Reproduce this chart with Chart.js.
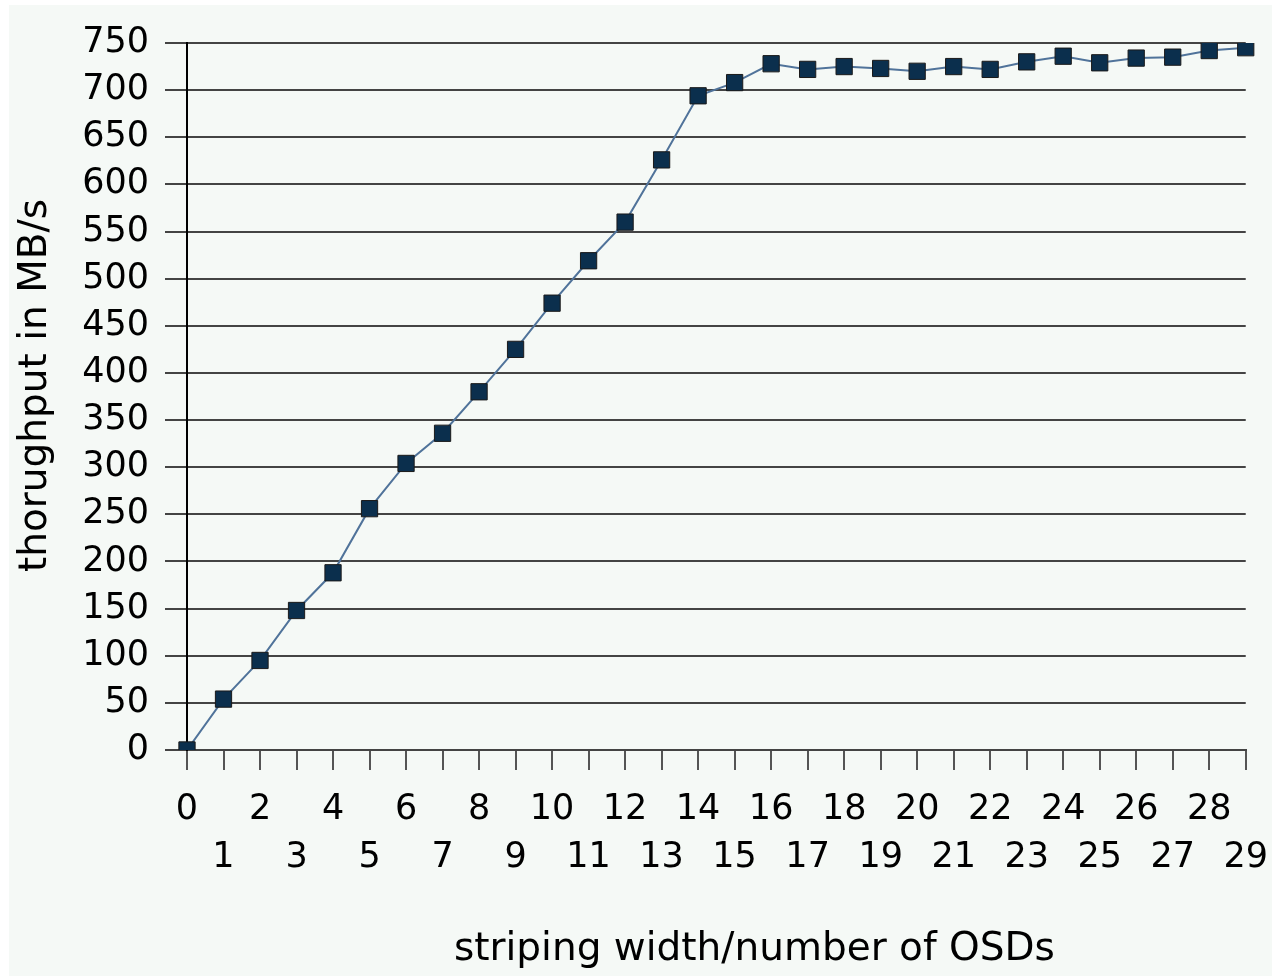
<!DOCTYPE html>
<html>
<head>
<meta charset="utf-8">
<script src="https://cdn.jsdelivr.net/npm/chart.js@4/dist/chart.umd.min.js"></script>
<style>
  html, body { margin: 0; padding: 0; background: #ffffff; overflow: hidden; }
  #wrap { position: absolute; left: 9px; top: 5px; width: 1275px; height: 971px; background: #f5f9f6; }
</style>
</head>
<body>
<div id="wrap"><canvas id="osdChart"></canvas></div>
<script>
// striping width / number of OSDs (0..29)
const widths = [0, 1, 2, 3, 4, 5, 6, 7, 8, 9, 10, 11, 12, 13, 14, 15, 16, 17, 18, 19, 20, 21, 22, 23, 24, 25, 26, 27, 28, 29];
// throughput in MB/s
const throughput = [0, 54, 95, 148, 188, 256, 304, 336, 380, 425, 474, 519, 560, 626, 694, 708, 728, 722, 725, 723, 720, 725, 722, 730, 736, 729, 734, 735, 742, 745];
const yTicks = { min: 0, max: 750, step: 50 };

const xTitle = 'striping width/number of OSDs';
const yTitle = 'thorughput in MB/s';

Chart.defaults.font.family = '"DejaVu Sans", sans-serif';
Chart.defaults.color = '#000000';

// axis titles are a little off-centre in the original, so draw them by hand
const axisTitles = {
    id: 'axisTitles',
    afterDraw(chart) {
        const c = chart.ctx;
        const area = chart.chartArea;
        c.save();
        c.font = '39px "DejaVu Sans", sans-serif';
        c.fillStyle = '#000000';
        c.textAlign = 'center';
        c.textBaseline = 'middle';
        c.fillText(xTitle, (area.left + area.right) / 2 + 38, chart.height - 26);
        c.translate(27, (area.top + area.bottom) / 2 - 11);
        c.rotate(-Math.PI / 2);
        c.fillText(yTitle, 0, 0);
        c.restore();
    }
};

const ctx = document.getElementById('osdChart').getContext('2d');
const osdChart = new Chart(ctx, {
    type: 'line',
    data: {
        labels: widths,
        datasets: [{
            label: 'throughput',
            data: throughput,
            borderColor: '#50739a',
            borderWidth: 2,
            pointStyle: 'rect',
            pointRadius: 11.5,
            pointBackgroundColor: '#0b2f4d',
            pointBorderColor: '#1a1a1a',
            pointBorderWidth: 1,
            tension: 0
        }]
    },
    options: {
        responsive: true,
        maintainAspectRatio: false,
        animation: false,
        layout: { padding: { top: 38, right: 17, left: 0, bottom: 0 } },
        plugins: {
            legend: { display: false },
            tooltip: { enabled: false }
        },
        scales: {
            x: {
                type: 'category',
                offset: false,
                grid: {
                    drawOnChartArea: false,
                    drawTicks: true,
                    tickLength: 20,
                    color: '#555555',
                    lineWidth: 2
                },
                border: { color: '#444444', width: 2 },
                ticks: {
                    autoSkip: false,
                    maxRotation: 0,
                    padding: 16,
                    font: { size: 35, lineHeight: 1.37 },
                    callback: function (value, index) {
                        const s = String(widths[index]);
                        return index % 2 === 0 ? [s, ''] : ['', s];
                    }
                },
                afterFit: function (scale) { scale.height = 226; }
            },
            y: {
                min: yTicks.min,
                max: yTicks.max,
                grid: {
                    color: '#444444',
                    lineWidth: 2,
                    tickLength: 22
                },
                border: { color: '#000000', width: 2 },
                ticks: {
                    stepSize: yTicks.step,
                    padding: 16,
                    font: { size: 35 }
                },
                afterFit: function (scale) { scale.width = 178; }
            }
        }
    },
    plugins: [axisTitles]
});
</script>
</body>
</html>
